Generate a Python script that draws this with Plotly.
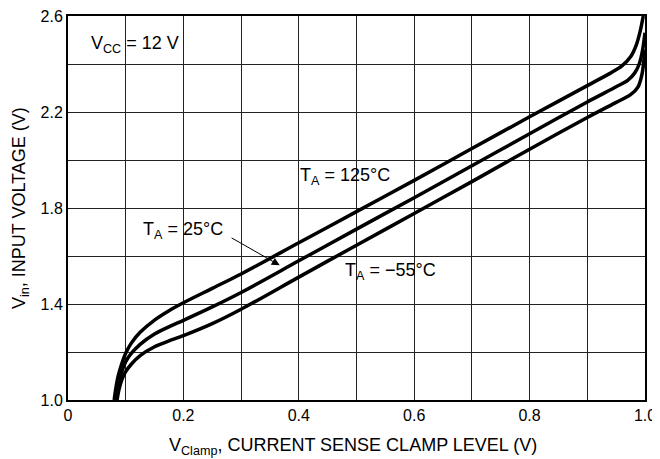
import plotly.graph_objects as go

# ---- data ----
x_125 = [0.080, 0.083, 0.087, 0.093, 0.100, 0.110, 0.125, 0.150, 0.175, 0.200, 0.250, 0.300, 0.400, 0.500, 0.600, 0.700, 0.800, 0.900, 0.940, 0.960, 0.975, 0.985, 0.992, 0.997]
y_125 = [1.000, 1.050, 1.100, 1.150, 1.195, 1.238, 1.282, 1.333, 1.372, 1.405, 1.465, 1.525, 1.655, 1.785, 1.915, 2.048, 2.180, 2.310, 2.362, 2.392, 2.430, 2.480, 2.540, 2.600]

x_25 = [0.082, 0.085, 0.090, 0.095, 0.100, 0.110, 0.125, 0.150, 0.175, 0.200, 0.250, 0.300, 0.400, 0.500, 0.600, 0.700, 0.800, 0.900, 0.950, 0.970, 0.982, 0.990, 0.996, 1.000]
y_25 = [1.000, 1.045, 1.095, 1.130, 1.160, 1.195, 1.232, 1.275, 1.305, 1.332, 1.388, 1.448, 1.580, 1.712, 1.843, 1.976, 2.109, 2.242, 2.305, 2.332, 2.362, 2.400, 2.460, 2.530]

x_m55 = [0.085, 0.088, 0.092, 0.096, 0.100, 0.110, 0.125, 0.150, 0.175, 0.200, 0.250, 0.300, 0.400, 0.500, 0.600, 0.700, 0.800, 0.900, 0.950, 0.975, 0.988, 0.995, 1.000]
y_m55 = [1.000, 1.040, 1.075, 1.100, 1.118, 1.150, 1.185, 1.222, 1.246, 1.268, 1.318, 1.378, 1.512, 1.645, 1.777, 1.910, 2.045, 2.177, 2.240, 2.272, 2.305, 2.360, 2.460]

x_tick_vals = [0.0, 0.1, 0.2, 0.3, 0.4, 0.5, 0.6, 0.7, 0.8, 0.9, 1.0]
x_tick_text = ["0", "", "0.2", "", "0.4", "", "0.6", "", "0.8", "", "1.0"]
y_tick_vals = [1.0, 1.2, 1.4, 1.6, 1.8, 2.0, 2.2, 2.4, 2.6]
y_tick_text = ["1.0", "", "1.4", "", "1.8", "", "2.2", "", "2.6"]

FONT = "Liberation Sans, Arial, sans-serif"

fig = go.Figure()
for xs, ys, name in [(x_125, y_125, "125"), (x_25, y_25, "25"), (x_m55, y_m55, "-55")]:
    fig.add_trace(go.Scatter(x=xs, y=ys, mode="lines", name=name,
                             line=dict(color="black", width=3.5, shape="spline", smoothing=0.8),
                             showlegend=False))

axis_common = dict(showgrid=True, gridcolor="#222222", gridwidth=1,
                   showline=True, linecolor="black", linewidth=2, mirror=True,
                   ticks="", zeroline=False, automargin=False,
                   ticklabeloverflow="allow",
                   tickfont=dict(family=FONT, size=16, color="black"))

fig.update_xaxes(range=[0, 1.0], tickvals=x_tick_vals, ticktext=x_tick_text, **axis_common)
fig.update_yaxes(range=[1.0, 2.6], tickvals=y_tick_vals, ticktext=y_tick_text, **axis_common)

title_font = dict(family=FONT, size=18, color="black")
fig.add_annotation(xref="paper", yref="paper", x=0.494, y=-0.122,
                   text="V<sub>Clamp</sub>, CURRENT SENSE CLAMP LEVEL (V)",
                   showarrow=False, xanchor="center", yanchor="middle", font=title_font)
fig.add_annotation(xref="paper", yref="paper", x=-0.083, y=0.5, textangle=-90,
                   text="V<sub>in</sub>, INPUT VOLTAGE (V)",
                   showarrow=False, xanchor="center", yanchor="middle", font=title_font)

ann_font = dict(family=FONT, size=18, color="black")
fig.add_annotation(x=0.036, y=2.483, text="V<sub>CC</sub> = 12 V", showarrow=False,
                   xanchor="left", yanchor="middle", font=ann_font)
fig.add_annotation(x=0.399, y=1.933, text="T<sub>A</sub> = 125°C", showarrow=False,
                   xanchor="left", yanchor="middle", font=ann_font)
fig.add_annotation(x=0.126, y=1.708, text="T<sub>A</sub> = 25°C", showarrow=False,
                   xanchor="left", yanchor="middle", font=ann_font)
fig.add_annotation(x=0.477, y=1.5375, text="T<sub>A</sub> = −55°C", showarrow=False,
                   xanchor="left", yanchor="middle", font=ann_font)
fig.add_annotation(x=0.367, y=1.561, ax=0.281, ay=1.679, axref="x", ayref="y",
                   text="", showarrow=True, arrowhead=2, arrowsize=1.6, arrowwidth=1,
                   arrowcolor="black")

# page body adds an 8 px offset; the figure is sized so the plot box lands near the reference spot
fig.update_layout(width=652, height=453, margin=dict(l=60, r=15, t=8, b=61),
                  plot_bgcolor="white", paper_bgcolor="white")

fig.write_html("out.html")
